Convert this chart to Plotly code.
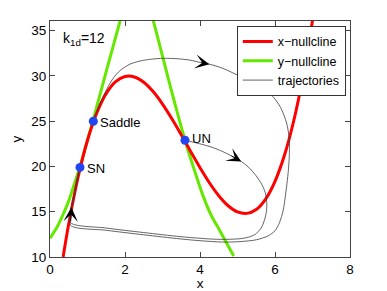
import plotly.graph_objects as go

# ---- data ----
xnull_x = [0.35, 0.5, 0.75, 1.0, 1.25, 1.5, 1.75, 2.0, 2.25, 2.5, 2.75, 3.0, 3.25, 3.5,
           3.75, 4.0, 4.25, 4.5, 4.75, 5.0, 5.25, 5.5, 5.75, 6.0, 6.25, 6.5, 6.75, 7.0]
xnull_y = [10.0, 13.67, 18.84, 22.9, 25.94, 28.07, 29.37, 29.94, 29.89, 29.3, 28.27, 26.89, 25.27, 23.5,
           21.66, 19.87, 18.2, 16.77, 15.66, 14.98, 14.82, 15.25, 16.4, 18.36, 21.21, 25.05, 30.0, 36.12]

ynull_left_x = [0.0, 0.2, 0.36, 0.5, 0.62, 0.8, 0.95, 1.155, 1.5, 1.87]
ynull_left_y = [12.07, 13.4, 14.8, 16.2, 17.7, 20.0, 22.2, 25.2, 30.5, 36.1]
ynull_right_x = [2.755, 3.0, 3.3, 3.6, 3.85, 4.09, 4.3, 4.53, 4.7, 4.9]
ynull_right_y = [36.1, 32.2, 27.4, 22.9, 19.6, 16.67, 14.6, 12.9, 11.6, 10.1]

traj_a_x = [1.155, 1.3, 1.45, 1.6, 1.75, 1.9, 2.13, 2.4, 2.7, 3.02, 3.4, 3.73, 4.0, 4.25, 4.6,
            5.15, 5.6, 5.95, 6.15, 6.31, 6.38, 6.38, 6.35, 6.3, 6.22, 6.12, 6.0, 5.8, 5.5, 5.07,
            4.6, 4.0, 3.47, 2.5, 1.5, 0.55, 0.57, 0.65, 0.72, 0.8]
traj_a_y = [25.0, 26.6, 28.0, 29.2, 30.1, 30.7, 31.3, 31.65, 31.85, 31.95, 31.9, 31.75, 31.5, 31.3, 30.85,
            29.8, 28.85, 27.7, 26.5, 24.8, 23.0, 21.0, 19.3, 17.5, 15.2, 13.8, 12.9, 12.3, 11.9, 11.7,
            11.65, 11.8, 12.0, 12.45, 12.95, 13.5, 15.2, 16.8, 18.4, 19.9]

traj_b_x = [3.6, 3.8, 4.05, 4.3, 4.55, 4.8, 5.1, 5.3, 5.5, 5.65, 5.74, 5.78, 5.77, 5.72, 5.63,
            5.47, 5.3, 5.07, 4.7, 4.36, 4.0, 3.47, 2.5, 1.5, 0.55, 0.57, 0.65, 0.72, 0.8]
traj_b_y = [22.9, 22.7, 22.45, 22.15, 21.75, 21.25, 20.55, 19.9, 18.95, 18.0, 17.1, 16.0, 15.0, 14.1, 13.2,
            12.5, 12.2, 12.02, 11.95, 11.97, 12.07, 12.25, 12.7, 13.2, 13.8, 15.5, 16.9, 18.45, 19.9]

eq_x = [0.8, 1.155, 3.6]
eq_y = [19.9, 25.0, 22.9]
eq_labels = ["SN", "Saddle", "UN"]

x_ticks = [0, 2, 4, 6, 8]
y_ticks = [10, 15, 20, 25, 30, 35]

# arrow positions (indices into trajectory arrays: tip index)
arrow_a_idx = 13
arrow_b_idx = 6
arrow_up_idx = 25

RED = "rgb(255,0,0)"
GREEN = "rgb(100,232,0)"
TRAJ = "rgb(60,60,60)"
BLUE = "rgb(35,70,245)"
FONT = "Liberation Sans, Arial, sans-serif"

fig = go.Figure()

fig.add_trace(go.Scatter(x=ynull_left_x, y=ynull_left_y, mode="lines",
                         line=dict(color=GREEN, width=3, shape="spline"),
                         name="y−nullcline", legendrank=2, legendgroup="y"))
fig.add_trace(go.Scatter(x=ynull_right_x, y=ynull_right_y, mode="lines",
                         line=dict(color=GREEN, width=3, shape="spline"),
                         name="y−nullcline", showlegend=False, legendgroup="y"))
fig.add_trace(go.Scatter(x=xnull_x, y=xnull_y, mode="lines",
                         line=dict(color=RED, width=3, shape="spline"),
                         name="x−nullcline", legendrank=1))
fig.add_trace(go.Scatter(x=traj_a_x, y=traj_a_y, mode="lines",
                         line=dict(color=TRAJ, width=0.8, shape="spline", smoothing=0.8),
                         name="trajectories", legendrank=3, legendgroup="t"))
fig.add_trace(go.Scatter(x=traj_b_x, y=traj_b_y, mode="lines",
                         line=dict(color=TRAJ, width=0.8, shape="spline", smoothing=0.8),
                         name="trajectories", showlegend=False, legendgroup="t"))
fig.add_trace(go.Scatter(x=eq_x, y=eq_y, mode="markers",
                         marker=dict(color=BLUE, size=9), showlegend=False))

annotations = []
for xx, yy, lab in zip(eq_x, eq_y, eq_labels):
    annotations.append(dict(x=xx, y=yy, xref="x", yref="y", text=lab, showarrow=False,
                            xanchor="left", yanchor="middle", xshift=5,
                            yshift=2 if lab == "UN" else -1,
                            font=dict(family=FONT, size=13, color="black")))

for tx, ty, i in [(traj_a_x, traj_a_y, arrow_a_idx), (traj_b_x, traj_b_y, arrow_b_idx),
                  (traj_b_x, traj_b_y, arrow_up_idx)]:
    annotations.append(dict(x=tx[i], y=ty[i], ax=tx[i - 1], ay=ty[i - 1],
                            xref="x", yref="y", axref="x", ayref="y",
                            showarrow=True, arrowhead=3, arrowsize=2.4, arrowwidth=1,
                            arrowcolor="black", text=""))

annotations.append(dict(x=0.035, y=0.925, xref="paper", yref="paper",
                        text="k<sub>1d</sub>=12", showarrow=False,
                        xanchor="left", yanchor="middle",
                        font=dict(family=FONT, size=14, color="black")))

fig.update_layout(
    width=387, height=291,
    margin=dict(l=50, r=37, t=21, b=34, autoexpand=False),
    paper_bgcolor="white", plot_bgcolor="white",
    font=dict(family=FONT, size=13, color="black"),
    annotations=annotations,
    legend=dict(x=0.986, y=0.979, xanchor="right", yanchor="top",
                bgcolor="white", bordercolor="#333", borderwidth=1,
                font=dict(family=FONT, size=12.5), tracegroupgap=0,
                itemwidth=30),
    showlegend=True,
)
fig.update_xaxes(range=[0, 8], tickvals=x_ticks, ticks="inside", ticklen=5,
                 tickcolor="#444", showline=True, linecolor="#444", linewidth=1,
                 mirror="ticks", showgrid=False, zeroline=False, automargin=False,
                 tickfont=dict(size=13.5),
                 title=dict(text="x", standoff=6, font=dict(size=13.5)))
fig.update_yaxes(range=[10, 36.07], tickvals=y_ticks, ticks="inside", ticklen=5,
                 tickcolor="#444", showline=True, linecolor="#444", linewidth=1,
                 mirror="ticks", showgrid=False, zeroline=False, automargin=False,
                 tickfont=dict(size=13.5),
                 title=dict(text="y", standoff=6, font=dict(size=13.5)))

fig.write_html("out.html", config={"displayModeBar": False},
               post_script="document.body.style.margin='0px';document.body.style.overflow='hidden';")
